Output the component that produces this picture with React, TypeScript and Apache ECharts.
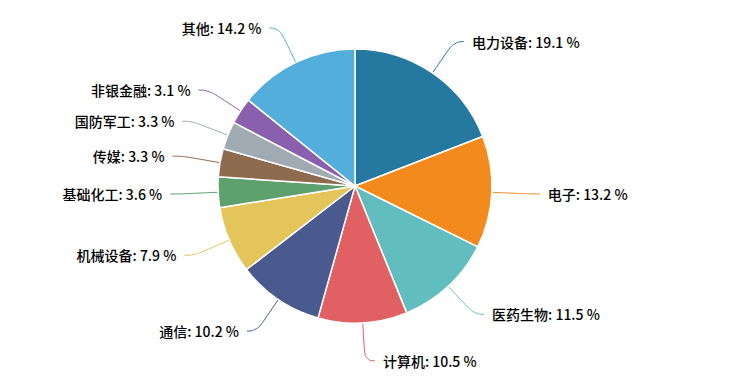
import React, { useEffect, useRef } from "react";
import * as echarts from "echarts";

const categories = ["电力设备", "电子", "医药生物", "计算机", "通信", "机械设备", "基础化工", "传媒", "国防军工", "非银金融", "其他"];
const values = [19.1, 13.2, 11.5, 10.5, 10.2, 7.9, 3.6, 3.3, 3.3, 3.1, 14.2];
const colors = ["#25789f", "#f28a1e", "#62bebe", "#e06063", "#4b5a8e", "#e4c55b", "#5fa06f", "#8e6b4e", "#9faab3", "#8960ae", "#53aedb"];

export default function App() {
  const ref = useRef<HTMLDivElement>(null);
  useEffect(() => {
    const chart = echarts.init(ref.current!, undefined, { renderer: "svg" });
    chart.setOption({
      animation: false,
      backgroundColor: "#ffffff",
      color: colors,
      series: [
        {
          type: "pie",
          center: [347, 178],
          radius: 137,
          startAngle: 90,
          data: categories.map((c, i) => ({ name: c, value: values[i] })),
          itemStyle: { borderColor: "#ffffff", borderWidth: 1.5 },
          label: {
            formatter: "{b}: {c} %",
            fontSize: 14,
            fontWeight: 500,
            color: "#000",
            fontFamily: "'Noto Sans CJK SC', 'Noto Sans', sans-serif",
            distanceToLabelLine: 8,
          },
          labelLine: { length: 38, length2: 10, smooth: 0.5, lineStyle: { width: 1 } },
        },
      ],
    });
    return () => chart.dispose();
  }, []);
  return <div ref={ref} style={{ width: 717, height: 366 }} />;
}
